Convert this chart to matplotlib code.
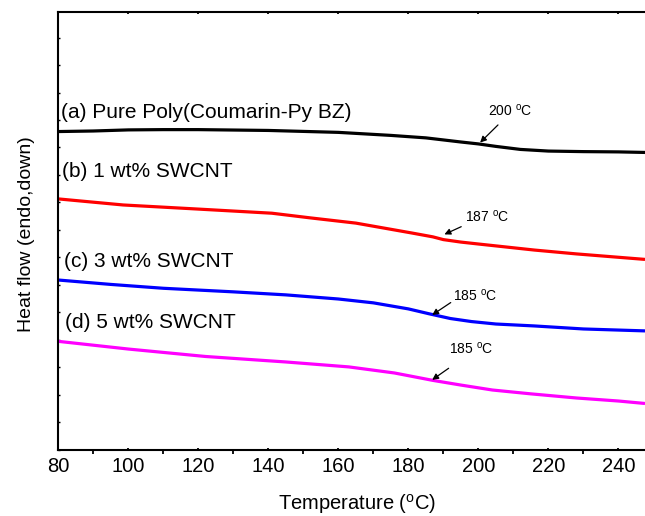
import matplotlib
matplotlib.use("Agg")
import matplotlib.pyplot as plt

plt.rcParams['font.family'] = ['Liberation Sans', 'DejaVu Sans']
plt.rcParams['mathtext.default'] = 'regular'

# Temperature (°C) and heat flow (arbitrary units) for each curve
t_a = [80, 90, 100, 110, 120, 140, 160, 175, 185, 195, 200, 205, 212, 220, 230, 240, 247.6]
hf_a = [11.58, 11.60, 11.64, 11.65, 11.65, 11.62, 11.55, 11.44, 11.35, 11.20, 11.13, 11.04, 10.93, 10.87, 10.85, 10.84, 10.82]

t_b = [80, 98.5, 120, 141, 152, 165, 173, 181, 187, 190, 195, 200, 216, 228, 247.6]
hf_b = [9.13, 8.91, 8.76, 8.61, 8.44, 8.25, 8.07, 7.89, 7.75, 7.65, 7.56, 7.49, 7.27, 7.13, 6.93]

t_c = [80, 95, 110, 130, 145, 160, 170, 180, 186, 192, 198, 205, 216, 230, 247.6]
hf_c = [6.18, 6.02, 5.88, 5.75, 5.64, 5.49, 5.35, 5.13, 4.95, 4.78, 4.67, 4.58, 4.51, 4.40, 4.33]

t_d = [80, 100, 122, 145, 163, 176, 187, 195, 204, 215, 228, 240, 247.6]
hf_d = [3.95, 3.67, 3.40, 3.20, 3.02, 2.80, 2.53, 2.36, 2.18, 2.04, 1.89, 1.78, 1.69]

labels = ["(a) Pure Poly(Coumarin-Py BZ)", "(b) 1 wt% SWCNT", "(c) 3 wt% SWCNT", "(d) 5 wt% SWCNT"]
colors = ["#000000", "#ff0000", "#0000ff", "#ff00ff"]
tg_labels = ["200 $^{o}$C", "187 $^{o}$C", "185 $^{o}$C", "185 $^{o}$C"]

fig = plt.figure(figsize=(6.45, 5.16), dpi=100)
ax = fig.add_axes([0.0904, 0.128, 0.9096, 0.8478])

for t, hf, c in zip([t_a, t_b, t_c, t_d], [hf_a, hf_b, hf_c, hf_d], colors):
    ax.plot(t, hf, color=c, lw=2.3, solid_capstyle='butt')

label_pos = [(80.8, 12.29), (81.0, 10.13), (81.6, 6.87), (81.8, 4.65)]
for (x, y), s in zip(label_pos, labels):
    ax.text(x, y, s, fontsize=15, ha='left', va='center')

tg_text = [(202.8, 12.33), (196.2, 8.48), (192.7, 5.60), (191.5, 3.67)]
tg_tail = [(205.6, 11.82), (195.1, 8.12), (192.1, 5.36), (191.5, 2.97)]
tg_head = [(200.5, 11.18), (190.3, 7.84), (186.8, 4.91), (186.8, 2.55)]
for (tx, ty), tail, head, s in zip(tg_text, tg_tail, tg_head, tg_labels):
    ax.text(tx, ty, s, fontsize=10, ha='left', va='center')
    ax.annotate("", xy=head, xytext=tail,
                arrowprops=dict(arrowstyle='-|>', color='black', lw=0.9,
                                mutation_scale=9, shrinkA=0, shrinkB=0))

ax.set_xlim(80, 247.6)
ax.set_ylim(0, 15.91)
ax.set_xticks([80, 100, 120, 140, 160, 180, 200, 220, 240])
ax.set_xticks(range(90, 250, 20), minor=True)
ax.set_yticks(range(0, 16))
ax.set_yticklabels([])
ax.tick_params(axis='x', which='major', direction='out', length=4, width=1.3, labelsize=14.5, pad=5)
ax.tick_params(axis='x', which='minor', direction='out', length=3, width=1.3)
ax.tick_params(axis='y', which='major', direction='in', length=2.5, width=1.0)
ax.tick_params(top=True, which='major', direction='in', length=1.5)
ax.tick_params(axis='x', which='minor', top=False)

for side in ['left', 'bottom', 'top']:
    ax.spines[side].set_linewidth(1.5)
ax.spines['right'].set_visible(False)

ax.set_xlabel("Temperature ($^{o}$C)", fontsize=14.5)
ax.set_ylabel("Heat flow (endo,down)", fontsize=14)
ax.xaxis.set_label_coords(0.509, -0.095)
ax.yaxis.set_label_coords(-0.04, 0.494)

fig.savefig("out.png", dpi=100)
